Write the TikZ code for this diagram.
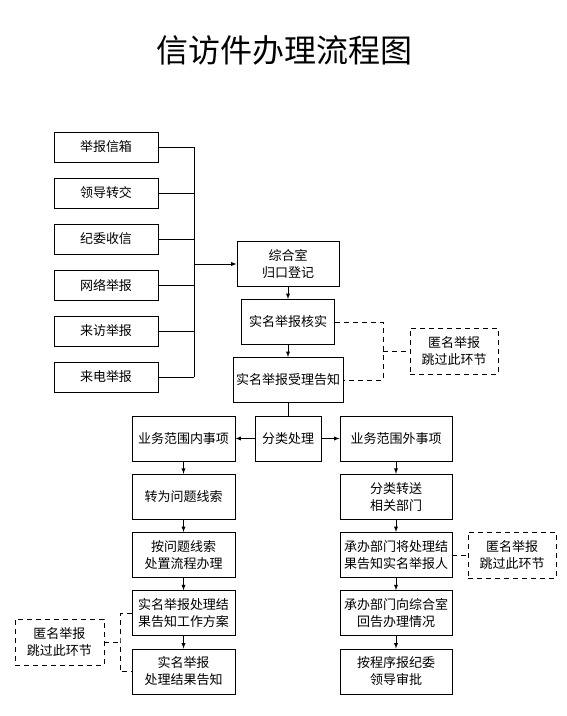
\documentclass[tikz,border=0pt]{standalone}
\usepackage{fontspec}
\setmainfont{Noto Sans CJK SC}
\usetikzlibrary{positioning}

\begin{document}
\begin{tikzpicture}[x=1pt, y=-1pt, >=latex, line width=0.9pt, font=\fontsize{13}{17}\selectfont,
	box/.style={draw, align=center, inner sep=0pt, minimum height=45pt},
	srcbox/.style={box, minimum width=104pt, minimum height=30pt},
	skipbox/.style={box, dash pattern=on 5pt off 4pt, minimum width=88pt, minimum height=46pt},
	skipline/.style={dash pattern=on 5pt off 4pt}]
	% Bildbereich
	\useasboundingbox (0,0) rectangle (566,716);
	% Titel
	\node[font=\fontsize{32}{32}\selectfont] (titel) at (284.5,50) {信访件办理流程图};
	% Eingangskanaele
	\foreach \t [count=\i] in {举报信箱,领导转交,纪委收信,网络举报,来访举报,来电举报}
		\node[srcbox] (q\i) at (106,{101+46*\i}) {\t};
	\coordinate (bus) at (194,264);
	\foreach \i in {1,...,6} \draw (q\i.east) -- (q\i.east -| bus);
	\draw (q1.east -| bus) -- (q6.east -| bus);
	% Mittelspalte
	\node[box, minimum width=102pt] (zhs) at (288,264) {综合室\\归口登记};
	\node[box, minimum width=93pt] (hs) at (288,322) {实名举报核实};
	\node[box, minimum width=110pt] (sl) at (288,380) {实名举报受理告知};
	\node[box, minimum width=66pt] (fl) at (288,438.5) {分类处理};
	\draw[->] (bus) -- (zhs.west);
	\draw[->] (zhs) -- (hs);
	\draw[->] (hs) -- (sl);
	\draw (sl) -- (fl);
	% linker Zweig
	\node[box, minimum width=103pt] (nei) at (183.5,438.5) {业务范围内事项};
	\node[box, minimum width=103pt] (xs) at (183.5,496.75) {转为问题线索};
	\node[box, minimum width=103pt] (az) at (183.5,555) {按问题线索\\处置流程办理};
	\node[box, minimum width=103pt] (fa) at (183.5,613.25) {实名举报处理结\\果告知工作方案};
	\node[box, minimum width=103pt] (gz) at (183.5,671.5) {实名举报\\处理结果告知};
	% rechter Zweig
	\node[box, minimum width=112pt] (wai) at (396,438.5) {业务范围外事项};
	\node[box, minimum width=112pt] (zs) at (396,496.75) {分类转送\\相关部门};
	\node[box, minimum width=112pt] (bg) at (396,555) {承办部门将处理结\\果告知实名举报人};
	\node[box, minimum width=112pt] (hg) at (396,613.25) {承办部门向综合室\\回告办理情况};
	\node[box, minimum width=112pt] (sp) at (396,671.5) {按程序报纪委\\领导审批};
	\draw[->] (fl) -- (nei);
	\draw[->] (fl) -- (wai);
	\draw[->] (nei) -- (xs);
	\draw[->] (xs) -- (az);
	\draw[->] (az) -- (fa);
	\draw[->] (fa) -- (gz);
	\draw[->] (wai) -- (zs);
	\draw[->] (zs) -- (bg);
	\draw[->] (bg) -- (hg);
	\draw[->] (hg) -- (sp);
	% anonyme Meldungen
	\node[skipbox] (nm1) at (454,351) {匿名举报\\跳过此环节};
	\node[skipbox] (nm2) at (512,555) {匿名举报\\跳过此环节};
	\node[skipbox, minimum width=89pt] (nm3) at (59.5,642) {匿名举报\\跳过此环节};
	\coordinate (j1) at (383,351);
	\coordinate (j3) at (120,642);
	\draw[skipline] (hs.east) -| (j1) |- (sl.east);
	\draw[skipline] (j1) -- (nm1.west);
	\draw[skipline] (bg.east) -- (nm2.west);
	\draw[skipline] (fa.west) -| (j3) |- (gz.west);
	\draw[skipline] (nm3.east) -- (j3);
\end{tikzpicture}
\end{document}
